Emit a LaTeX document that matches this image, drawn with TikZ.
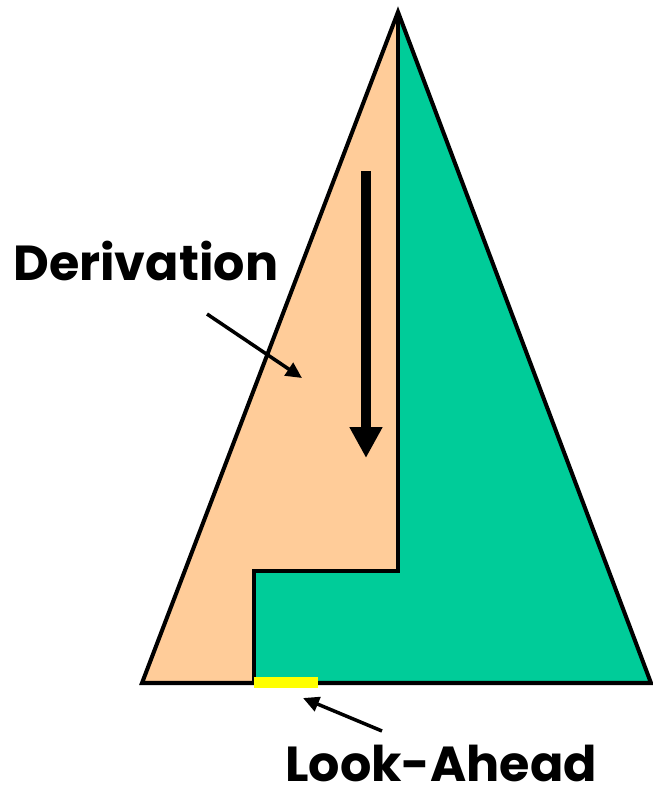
\documentclass[tikz,border=0pt]{standalone}
\usepackage{fontspec}
\setmainfont{Poppins}
\usetikzlibrary{arrows.meta}

\definecolor{peach}{RGB}{255,204,153}
\definecolor{seagreen}{RGB}{0,204,153}
\definecolor{lookyellow}{RGB}{255,255,0}

\begin{document}
\begin{tikzpicture}[x=0.02cm, y=-0.02cm, line join=miter]
            \useasboundingbox (0,0) rectangle (653,799);
            {
                \tikzset{every node/.style = {inner sep=0pt, font=\fontsize{28}{32}\selectfont\bfseries}}

                \node[anchor=base west] (deriv) at (13, 280) {Derivation};
                \node[anchor=base west] (look) at (285, 781) {Look-Ahead};
            }

            % corners of the tree
            \coordinate (top) at (398, 12);
            \coordinate (bl) at (142, 683);
            \coordinate (br) at (651, 683);
            \coordinate (stepin) at (398, 571);
            \coordinate (stepout) at (254, 571);
            \coordinate (foot) at (254, 683);

            \fill[peach] (top) -- (bl) -- (foot) -- (stepout) -- (stepin) -- cycle;
            \fill[seagreen] (top) -- (stepin) -- (stepout) -- (foot) -- (br) -- cycle;
            \draw[line width=2.3pt] (top) -- (bl) -- (br) -- cycle;
            \draw[line width=2.3pt] (top) -- (stepin) -- (stepout) -- (foot);

            % look-ahead window
            \coordinate (la) at (254, 682.5);
            \coordinate (lb) at (318, 682.5);
            \draw[lookyellow, line width=0.21cm] (la) -- (lb);

            % arrows
            \coordinate (down1) at (366, 171);
            \coordinate (down2) at (366, 458);
            \coordinate (d1) at (207, 314);
            \coordinate (d2) at (302, 378);
            \coordinate (l1) at (382, 731);
            \coordinate (l2) at (303, 698);

            \draw (down1) edge[line width=0.21cm, -{Triangle[length=0.62cm, width=0.62cm]}] (down2);
            \draw (d1) edge[line width=2pt, -{Triangle[length=0.32cm, width=0.3cm]}] (d2);
            \draw (l1) edge[line width=2pt, -{Triangle[length=0.32cm, width=0.3cm]}] (l2);

        \end{tikzpicture}
\end{document}
